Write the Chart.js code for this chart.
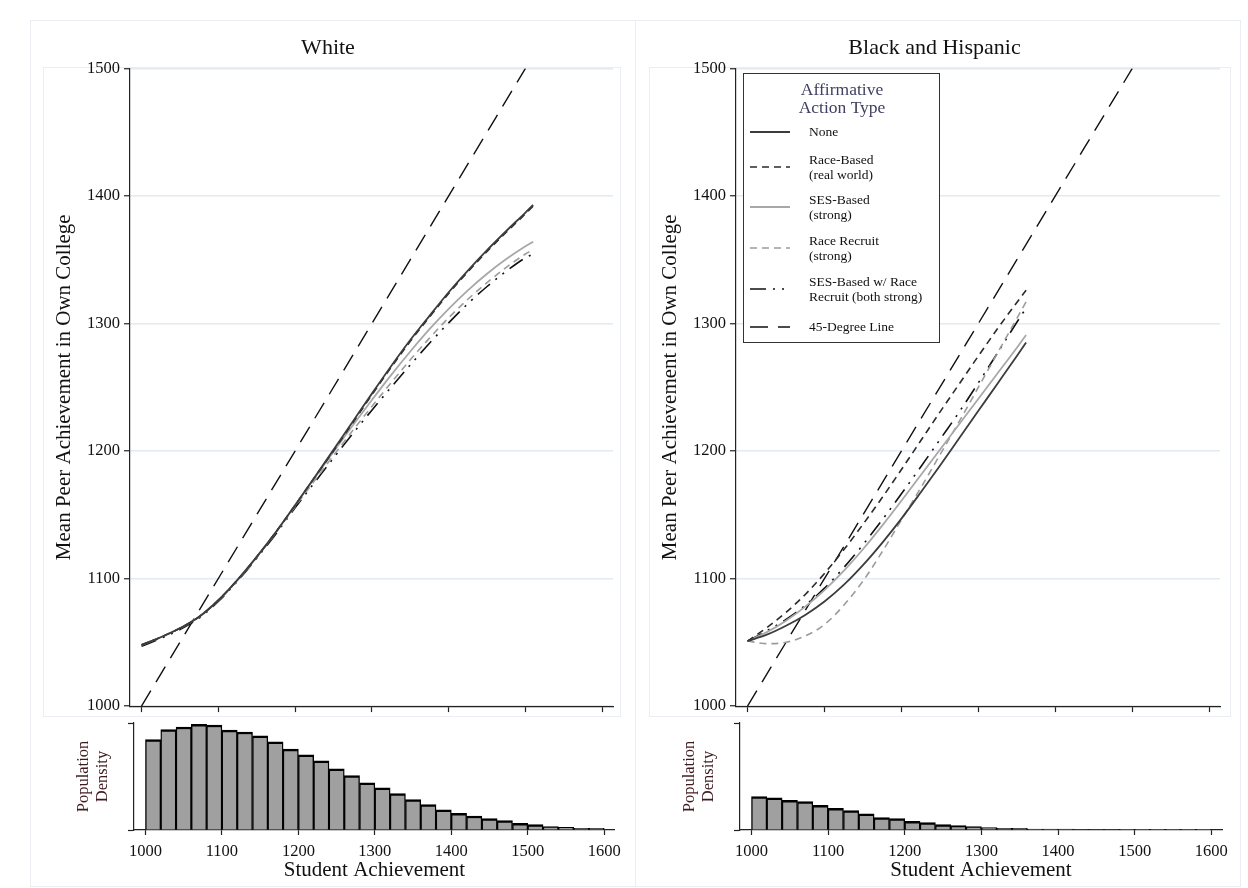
<!DOCTYPE html>
<html>
<head>
<meta charset="utf-8">
<title>Peer achievement by affirmative action type</title>
<script src="https://cdn.jsdelivr.net/npm/chart.js@4.4.1/dist/chart.umd.min.js"></script>
<style>
  body { margin: 0; background: #fff; }
  #page { position: relative; width: 1248px; height: 888px; overflow: hidden; }
  canvas { position: absolute; }
  .frame { position: absolute; border: 1px solid #eaeef2; box-sizing: border-box; }
</style>
</head>
<body>
<div id="page">
  <div class="frame" style="left:30px;top:20px;width:606px;height:867px"></div>
  <div class="frame" style="left:635px;top:20px;width:606px;height:867px"></div>
  <div class="frame" style="left:43px;top:67px;width:578px;height:650px"></div>
  <div class="frame" style="left:649px;top:67px;width:582px;height:650px"></div>

  <canvas id="whiteMain" width="577" height="698" style="left:43px;top:22px"></canvas>
  <canvas id="whiteHist" width="585" height="168" style="left:43px;top:718px"></canvas>
  <canvas id="minMain" width="581" height="698" style="left:649px;top:22px"></canvas>
  <canvas id="minHist" width="590" height="168" style="left:649px;top:718px"></canvas>
</div>

<script>
// ===============================
// DATA
// ===============================
const xTicks = [1000, 1100, 1200, 1300, 1400, 1500, 1600];
const yTicks = [1000, 1100, 1200, 1300, 1400, 1500];

const seriesLabels = [
  "None",
  "Race-Based\n(real world)",
  "SES-Based\n(strong)",
  "Race Recruit\n(strong)",
  "SES-Based w/ Race\nRecruit (both strong)",
  "45-Degree Line"
];

// White students
const xWhite = [1000, 1025, 1050, 1075, 1100, 1125, 1150, 1175, 1200, 1225, 1250,
                1275, 1300, 1325, 1350, 1375, 1400, 1425, 1450, 1475, 1500, 1510];
const whiteNone    = [1048, 1054, 1061, 1070, 1083, 1099, 1117, 1136.5, 1157.5, 1179, 1201,
                      1223, 1245, 1266.5, 1287, 1306, 1324.5, 1341.5, 1357.5, 1372.5, 1387, 1393];
const whiteRace    = [1048, 1054, 1061, 1070, 1083, 1099, 1117, 1136.5, 1157.5, 1179, 1200,
                      1222, 1244, 1265.5, 1286, 1305, 1323.5, 1340.5, 1356.5, 1371.5, 1386, 1392];
const whiteSES     = [1048, 1054, 1061, 1070, 1083, 1099, 1117, 1136.5, 1157.5, 1178.5, 1199.5,
                      1220, 1240, 1259.5, 1278, 1295.5, 1311.5, 1326, 1339, 1350.5, 1360.5, 1364];
const whiteRecruit = [1048, 1054, 1061, 1070, 1083, 1098.5, 1116.5, 1136, 1156.5, 1176.5, 1196.5,
                      1216, 1235, 1253.5, 1271.5, 1288.5, 1304.5, 1319, 1332, 1344, 1354.5, 1358];
const whiteBoth    = [1047, 1053, 1060, 1069, 1082, 1098, 1116, 1135, 1155.5, 1175, 1194.5,
                      1213.5, 1232, 1250, 1267.5, 1284.5, 1300.5, 1315.5, 1329, 1341, 1351.5, 1354.5];

// Black and Hispanic students
const xMin = [1000, 1025, 1050, 1075, 1100, 1125, 1150, 1175, 1200, 1225, 1250,
              1275, 1300, 1325, 1350, 1362];
const minNone    = [1051, 1056, 1063, 1071.5, 1082, 1095, 1110.5, 1128, 1147, 1167.5, 1188.5,
                    1210, 1231.5, 1253, 1274.5, 1285];
const minRace    = [1051, 1061.5, 1073.5, 1087.5, 1104, 1122.5, 1142.5, 1163.5, 1185.5, 1208, 1230.5,
                    1252.5, 1274.5, 1296, 1316.5, 1326];
const minSES     = [1051, 1058, 1067, 1078, 1091, 1106, 1123, 1141.5, 1161, 1181, 1201,
                    1221, 1241, 1261, 1281, 1291];
const minRecruit = [1051, 1049, 1050, 1055, 1064, 1079, 1098, 1121, 1146, 1171, 1197,
                    1223, 1250, 1277, 1304, 1317];
const minBoth    = [1051, 1059, 1068, 1079, 1092.5, 1108.5, 1126.5, 1146, 1166.5, 1187.5, 1209,
                    1230.5, 1253.5, 1277, 1301, 1312];

const fortyFive = [1000, 1500];

// Histograms: 20-point bins, centres
const histBins = [1010, 1030, 1050, 1070, 1090, 1110, 1130, 1150, 1170, 1190,
                  1210, 1230, 1250, 1270, 1290, 1310, 1330, 1350, 1370, 1390,
                  1410, 1430, 1450, 1470, 1490, 1510, 1530, 1550, 1570, 1590];
const whiteDensity = [84.4, 93.8, 96.3, 98.8, 98.1, 93.4, 91.6, 88.1, 82.5, 75.6,
                      70.3, 64.7, 57.2, 50.9, 44.0, 39.4, 34.0, 28.4, 23.8, 18.8,
                      15.6, 13.1, 10.6, 8.8, 6.3, 5.0, 3.1, 2.5, 1.6, 1.6];
const minorityDensity = [31.3, 30.0, 27.8, 26.6, 23.1, 20.3, 18.1, 15.0, 11.6, 10.6,
                         8.1, 6.9, 5.0, 4.1, 3.1, 2.2, 1.6, 1.6, 0.9, 0.9,
                         0.9, 0.3, 0.2, 0.2, 0.1, 0.1, 0.1, 0.1, 0.1, 0.1];

// ===============================
// STYLE
// ===============================
const SERIF = "'Liberation Serif', 'Times New Roman', serif";
Chart.defaults.font.family = SERIF;
Chart.defaults.color = "#111";

const lineStyles = [
  { color: "#3c3c3c", dash: [],                   width: 1.8 },
  { color: "#2a2a2a", dash: [7, 5],               width: 1.6 },
  { color: "#a8a8a8", dash: [],                   width: 1.8 },
  { color: "#9c9c9c", dash: [7, 5],               width: 1.6 },
  { color: "#111111", dash: [16, 7, 2, 7, 2, 7],  width: 1.6 },
  { color: "#111111", dash: [18, 10],             width: 1.4 }
];

function pts(xs, ys) {
  return xs.map((x, i) => ({ x: x, y: ys[i] }));
}

function lineSets(xs, groups) {
  const all = groups.map(ys => pts(xs, ys));
  all.push(pts(fortyFive, fortyFive));
  return all.map((data, i) => ({
    label: seriesLabels[i],
    data: data,
    borderColor: lineStyles[i].color,
    borderDash: lineStyles[i].dash,
    borderWidth: lineStyles[i].width,
    pointRadius: 0,
    fill: false,
    cubicInterpolationMode: "monotone"
  }));
}

const setTicks = list => scale => { scale.ticks = list.map(v => ({ value: v })); };

function mainOptions(title, padRight) {
  return {
    responsive: false,
    animation: false,
    layout: { padding: { right: padRight } },
    plugins: {
      legend: { display: false },
      tooltip: { enabled: false },
      title: {
        display: true, text: title, color: "#111",
        font: { size: 22, weight: "normal" },
        padding: { top: 13, bottom: 7 }
      }
    },
    scales: {
      x: {
        type: "linear", min: 985, max: 1614,
        afterBuildTicks: setTicks(xTicks),
        afterFit: s => { s.height = 12; },
        ticks: { display: false },
        grid: { drawOnChartArea: false, tickLength: 6, tickColor: "#222", tickWidth: 1.2 },
        border: { color: "#222", width: 1.2 }
      },
      y: {
        type: "linear", min: 1000, max: 1500,
        afterBuildTicks: setTicks(yTicks),
        afterFit: s => { s.width = 87; },
        ticks: { font: { size: 16.5 }, padding: 4, color: "#111", callback: v => String(v) },
        grid: { color: "#e4eaef", lineWidth: 1.5, tickLength: 6, tickColor: "#222", tickWidth: 1.2 },
        border: { color: "#222", width: 1.2 },
        title: {
          display: true, text: "Mean Peer Achievement in Own College",
          font: { size: 21 }, color: "#111", padding: { top: 9 }
        }
      }
    }
  };
}

function histOptions(padRight) {
  return {
    responsive: false,
    animation: false,
    layout: { padding: { top: 5, right: padRight } },
    plugins: { legend: { display: false }, tooltip: { enabled: false } },
    scales: {
      x: {
        type: "linear", min: 985, max: 1614, offset: false,
        afterBuildTicks: setTicks(xTicks),
        afterFit: s => { s.height = 56; },
        ticks: { font: { size: 16.5 }, padding: 7, color: "#111", maxRotation: 0, autoSkip: false, callback: v => String(v) },
        grid: { drawOnChartArea: false, offset: false, tickLength: 5, tickColor: "#222", tickWidth: 1.2 },
        border: { color: "#222", width: 1.2 },
        title: {
          display: true, text: "Student Achievement",
          font: { size: 21 }, color: "#111", padding: { top: 0, bottom: 3 }
        }
      },
      y: {
        type: "linear", min: 0, max: 100,
        afterBuildTicks: setTicks([0, 100]),
        afterFit: s => { s.width = 91; },
        ticks: { display: false },
        grid: { drawOnChartArea: false, tickLength: 6, tickColor: "#222", tickWidth: 1.2 },
        border: { color: "#222", width: 1.2 },
        title: {
          display: true, text: ["Population", "Density"],
          font: { size: 16.5, lineHeight: 1.1 }, color: "#3d1a1e", padding: { top: 32 }
        }
      }
    }
  };
}

function histSet(values) {
  return [{
    data: pts(histBins, values),
    backgroundColor: "#a0a0a0",
    borderColor: "#000",
    borderWidth: { top: 2.5, left: 1.4, right: 1.4, bottom: 0 },
    borderSkipped: "start",
    barPercentage: 1,
    categoryPercentage: 1
  }];
}

// Legend box drawn inside the right panel, styles taken from the datasets
const legendBox = {
  id: "legendBox",
  afterDraw(chart) {
    const ctx = chart.ctx;
    const left = 94, top = 51, w = 196, h = 269;
    ctx.save();
    ctx.fillStyle = "#fff";
    ctx.fillRect(left, top, w, h);
    ctx.strokeStyle = "#333";
    ctx.lineWidth = 1;
    ctx.strokeRect(left + 0.5, top + 0.5, w, h);

    ctx.fillStyle = "#404062";
    ctx.font = "17.5px " + SERIF;
    ctx.textAlign = "center";
    ctx.textBaseline = "middle";
    ctx.fillText("Affirmative", left + 99, 68);
    ctx.fillText("Action Type", left + 99, 86);

    const rows = [110, 145, 185, 226, 267, 305];
    chart.data.datasets.forEach((ds, i) => {
      const y = rows[i];
      ctx.beginPath();
      ctx.strokeStyle = ds.borderColor;
      ctx.lineWidth = ds.borderWidth;
      ctx.setLineDash(ds.borderDash || []);
      ctx.moveTo(101, y);
      ctx.lineTo(141, y);
      ctx.stroke();
      ctx.setLineDash([]);

      const lines = ds.label.split("\n");
      ctx.fillStyle = "#111";
      ctx.font = "13.5px " + SERIF;
      ctx.textAlign = "left";
      const start = y - (lines.length - 1) * 7;
      lines.forEach((t, k) => ctx.fillText(t, 160, start + k * 15));
    });
    ctx.restore();
  }
};

// ===============================
// CHARTS
// ===============================
new Chart(document.getElementById("whiteMain"), {
  type: "line",
  data: { datasets: lineSets(xWhite, [whiteNone, whiteRace, whiteSES, whiteRecruit, whiteBoth]) },
  options: mainOptions("White", 7)
});

new Chart(document.getElementById("minMain"), {
  type: "line",
  data: { datasets: lineSets(xMin, [minNone, minRace, minSES, minRecruit, minBoth]) },
  options: mainOptions("Black and Hispanic", 10),
  plugins: [legendBox]
});

new Chart(document.getElementById("whiteHist"), {
  type: "bar",
  data: { datasets: histSet(whiteDensity) },
  options: histOptions(12)
});

new Chart(document.getElementById("minHist"), {
  type: "bar",
  data: { datasets: histSet(minorityDensity) },
  options: histOptions(17)
});
</script>
</body>
</html>
